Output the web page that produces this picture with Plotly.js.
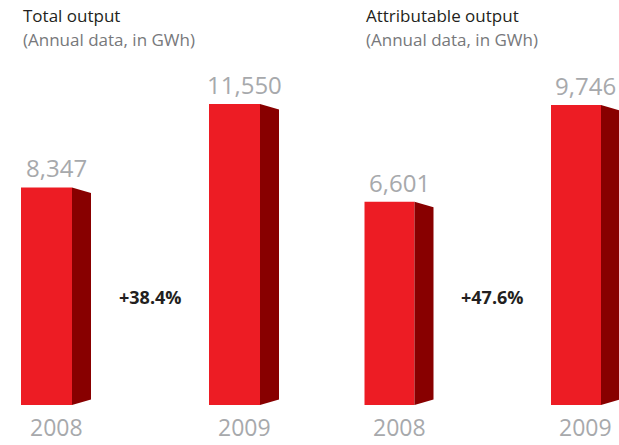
<!DOCTYPE html>
<html>
<head>
<meta charset="utf-8">
<script src="https://cdn.plot.ly/plotly-3.0.1.min.js"></script>
<style>html,body{margin:0;padding:0;background:#fff;}#chart{width:619px;height:445px;}</style>
</head>
<body>
<div id="chart"></div>
<script>
// ---- data ----
const years = ["2008", "2009"];
const totalOutput = [8347, 11550];
const attributableOutput = [6601, 9746];
const panelTitles = ["Total output", "Attributable output"];
const panelSubtitle = "(Annual data, in GWh)";

// ---- styles ----
const FRONT = "#ED1C24";
const SIDE = "#880000";
const GRAY = "#A7A9AC";
const FONT = "Open Sans, Noto Sans, sans-serif";
const W = 619, H = 445;

// panel geometry (pixel-based axis calibration)
const panels = [
  {values: totalOutput, xa: "x", ya: "y", xrange: [-46.5/188, (309.5-46.5)/188], pxPerX: 188,
   yrange: [-40*11550/301, 405*11550/301], pxPerY: 301/11550, frontW: 51},
  {values: attributableOutput, xa: "x2", ya: "y2", xrange: [-80/186.5, (309.5-80)/186.5], pxPerX: 186.5,
   yrange: [-40*9746/300, 405*9746/300], pxPerY: 300/9746, frontW: 50}
];

const traces = [];
const annotations = [];
const fmt = v => v.toLocaleString("en-US");

panels.forEach((p, pi) => {
  const w = p.frontW / p.pxPerX;       // front width in x units
  const d = 19 / p.pxPerX;             // side depth in x units
  const s = 5.5 / p.pxPerY;            // perspective slant in y units
  const xs = years.map((_, i) => i);
  traces.push({
    type: "bar", x: xs, y: p.values, width: w,
    marker: {color: FRONT, line: {width: 0}},
    xaxis: p.xa, yaxis: p.ya, hoverinfo: "skip", showlegend: false
  });
  p.values.forEach((v, i) => {
    const x0 = i + w/2, x1 = x0 + d;
    traces.push({
      type: "scatter", mode: "lines",
      x: [x0, x1, x1, x0, x0], y: [v, v - s, s, 0, v],
      fill: "toself", fillcolor: SIDE, line: {width: 0, color: SIDE},
      xaxis: p.xa, yaxis: p.ya, hoverinfo: "skip", showlegend: false
    });
    annotations.push({
      xref: p.xa, yref: p.ya, x: i + d/2, y: v, yanchor: "bottom", xanchor: "center",
      yshift: 1, text: fmt(v), showarrow: false, font: {family: FONT, size: 24, color: GRAY}
    });
    annotations.push({
      xref: p.xa, yref: p.ya, x: i + d/2, y: 0, yanchor: "top", xanchor: "center",
      yshift: -5, borderpad: 0, text: years[i], showarrow: false, font: {family: FONT, size: 23, color: GRAY}
    });
  });
  const growth = (p.values[1] - p.values[0]) / p.values[0] * 100;
  const midX = ((w/2 + d) + (1 - w/2)) / 2;
  annotations.push({
    xref: p.xa, yref: "paper", x: midX, y: 1 - 297/H, yanchor: "middle", xanchor: "center",
    text: "<b>+" + growth.toFixed(1) + "%</b>", showarrow: false,
    font: {family: FONT, size: 18, color: "#231F20"}
  });
  const titleX = pi === 0 ? 21 : 364;
  annotations.push({
    xref: "paper", yref: "paper", x: titleX / W, y: 1 - 2/H, xanchor: "left", yanchor: "top",
    text: panelTitles[pi], showarrow: false, font: {family: FONT, size: 17, color: "#231F20"}
  });
  annotations.push({
    xref: "paper", yref: "paper", x: titleX / W, y: 1 - 26/H, xanchor: "left", yanchor: "top",
    text: panelSubtitle, showarrow: false, font: {family: FONT, size: 17, color: "#77787B"}
  });
});

const hidden = {showgrid: false, zeroline: false, showticklabels: false, ticks: "", showline: false, fixedrange: true};
const layout = {
  width: W, height: H,
  margin: {l: 0, r: 0, t: 0, b: 0, pad: 0},
  paper_bgcolor: "#ffffff", plot_bgcolor: "rgba(0,0,0,0)",
  showlegend: false, barmode: "overlay",
  xaxis: Object.assign({domain: [0, 0.5], range: panels[0].xrange}, hidden),
  xaxis2: Object.assign({domain: [0.5, 1], range: panels[1].xrange}, hidden),
  yaxis: Object.assign({domain: [0, 1], range: panels[0].yrange, anchor: "x"}, hidden),
  yaxis2: Object.assign({domain: [0, 1], range: panels[1].yrange, anchor: "x2"}, hidden),
  annotations: annotations
};

Plotly.newPlot("chart", traces, layout, {staticPlot: true, displayModeBar: false});
</script>
</body>
</html>
